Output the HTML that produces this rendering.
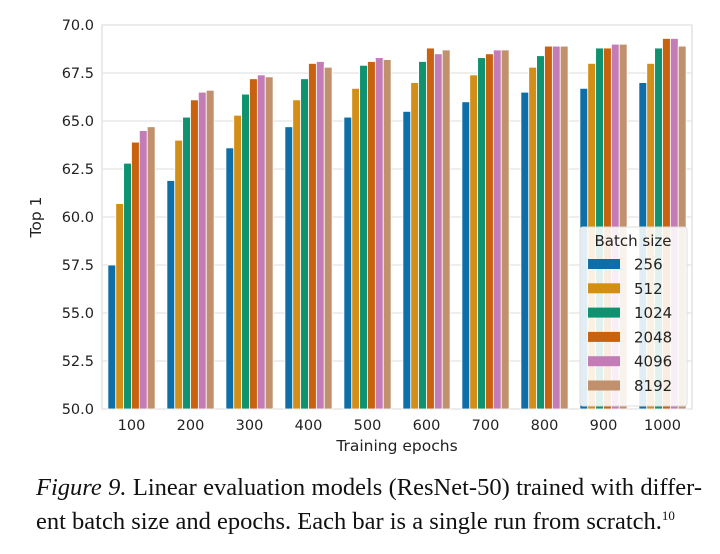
<!DOCTYPE html>
<html><head><meta charset="utf-8"><style>
body{margin:0;background:#fff;width:720px;height:554px;overflow:hidden}
.cap{position:absolute;left:36px;top:474px;width:666px;font-family:"Liberation Serif",serif;font-size:24.5px;line-height:28px;color:#111}
.l1{display:block;text-align:justify;text-align-last:justify;white-space:nowrap}
.l2{display:block;white-space:nowrap}
</style></head><body>
<svg id="chart" width="720" height="470" style="position:absolute;left:0;top:0" font-family="DejaVu Sans, Liberation Sans, sans-serif"></svg>
<div class="cap"><span class="l1"><i>Figure 9.</i> Linear evaluation models (ResNet-50) trained with differ-</span><span class="l2">ent batch size and epochs. Each bar is a single run from scratch.<sup style="font-size:13px">10</sup></span></div>
<script>
const categories=["100","200","300","400","500","600","700","800","900","1000"];
const batchSizes=["256","512","1024","2048","4096","8192"];
const s256=[57.5,61.9,63.6,64.7,65.2,65.5,66.0,66.5,66.7,67.0];
const s512=[60.7,64.0,65.3,66.1,66.7,67.0,67.4,67.8,68.0,68.0];
const s1024=[62.8,65.2,66.4,67.2,67.9,68.1,68.3,68.4,68.8,68.8];
const s2048=[63.9,66.1,67.2,68.0,68.1,68.8,68.5,68.9,68.8,69.3];
const s4096=[64.5,66.5,67.4,68.1,68.3,68.5,68.7,68.9,69.0,69.3];
const s8192=[64.7,66.6,67.3,67.8,68.2,68.7,68.7,68.9,69.0,68.9];
const yTicks=[50,52.5,55,57.5,60,62.5,65,67.5,70];
const series=[s256,s512,s1024,s2048,s4096,s8192];
const colors=["#0e6fa8","#d28e16","#0f9270","#c8620f","#c47cb6","#c0916c"];
const NS="http://www.w3.org/2000/svg";
const svg=document.getElementById('chart');
const L=102,R=692,T=25,B=409,ymin=50,ymax=70;
const y=v=>B-(v-ymin)/(ymax-ymin)*(B-T);
const band=(R-L)/categories.length;
const x=i=>L+band*(i+0.5);
function mk(t,a,p){const e=document.createElementNS(NS,t);for(const k in a)e.setAttribute(k,a[k]);(p||svg).appendChild(e);return e;}
mk('rect',{x:L,y:T,width:R-L,height:B-T,fill:'#fff',stroke:'#ddd','stroke-width':1.2});
yTicks.forEach(v=>{
  const g=mk('line',{x1:L,x2:R,y1:y(v),y2:y(v),stroke:'#e4e4e4','stroke-width':1.2});
  
  
  const t=mk('text',{x:94,y:y(v)+5,'text-anchor':'end','font-size':14.5,fill:'#222'});
  t.textContent=v.toFixed(1);
  
  
});
const bw=band*0.8/series.length;
series.forEach((s,j)=>{
  s.forEach((v,i)=>{
    const bx=x(i)-band*0.4+j*bw;
    const r=mk('rect',{x:bx,y:y(v),width:bw,height:B-y(v),fill:colors[j],stroke:'#fff','stroke-width':0.8});
    
    
  });
});
categories.forEach((c,i)=>{
  const t=mk('text',{x:x(i),y:430,'text-anchor':'middle','font-size':14.5,fill:'#222'});
  t.textContent=c;
  
  
});
let t=mk('text',{x:397,y:451,'text-anchor':'middle','font-size':15.5,fill:'#222'});t.textContent='Training epochs';


t=mk('text',{x:0,y:0,'text-anchor':'middle','font-size':15.5,fill:'#222',transform:'translate(41,217) rotate(-90)'});t.textContent='Top 1';


const lg=mk('g',{});


mk('rect',{x:580,y:227,width:107,height:179,rx:3,fill:'#fff','fill-opacity':0.88,stroke:'#ddd'},lg);
t=mk('text',{x:633,y:246,'text-anchor':'middle','font-size':15,fill:'#222'},lg);t.textContent='Batch size';


batchSizes.forEach((b,j)=>{
  const ey=264+j*24.3;
  const p=mk('rect',{x:588,y:ey-5,width:32,height:10,fill:colors[j]},lg);
  
  
  const tt=mk('text',{x:634,y:ey+5.5,'font-size':15,fill:'#222'},lg);tt.textContent=b;
  
  
});
</script>
</body></html>
